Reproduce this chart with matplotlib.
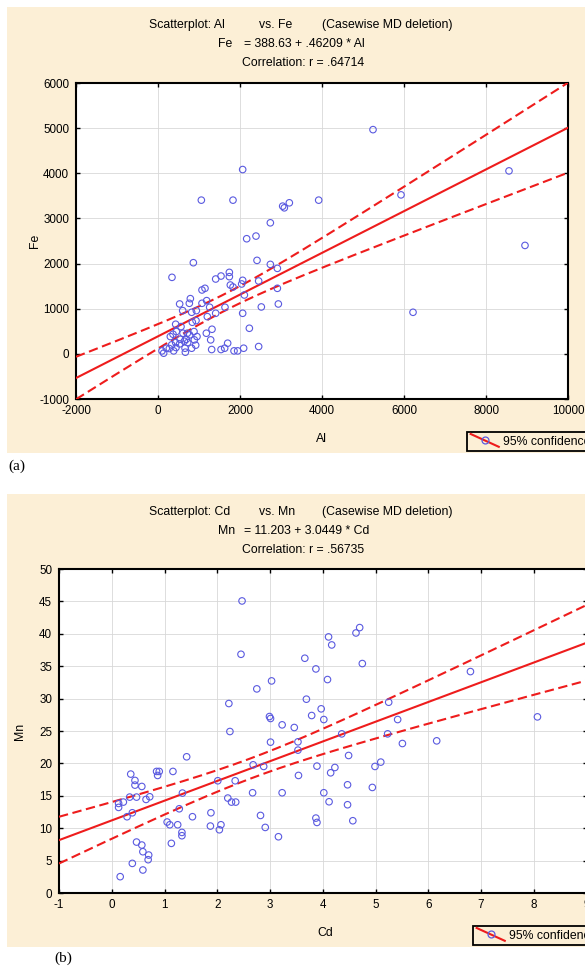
import numpy as np
import matplotlib
matplotlib.use("Agg")
import matplotlib.pyplot as plt
from matplotlib.lines import Line2D
from matplotlib.patches import Rectangle
from matplotlib.legend_handler import HandlerBase

plt.rcParams['font.family'] = ['Liberation Sans', 'DejaVu Sans']

# ---------------- data: panel (a) Al vs Fe ----------------
al = [2065, 1057, 1829, 3041, 3081, 3203, 3919, 2740, 2163, 2390,
      2415, 2740, 2911, 862, 341, 1407, 1537, 1740, 1740, 1764,
      1829, 2065, 2041, 2455, 2106, 2911, 2935, 2520, 2065, 2228,
      2455, 2089, 1943, 1854, 1699, 1626, 1537, 1309, 1285, 1317,
      1179, 1407, 1634, 1203, 1187, 1260, 1073, 1073, 1146, 789,
      764, 528, 602, 821, 935, 927, 837, 878, 951, 886,
      772, 715, 691, 724, 919, 821, 659, 667, 528, 431,
      439, 333, 301, 366, 431, 447, 537, 610, 642, 382,
      276, 203, 138, 98, 561, 5244, 5927, 6220, 8561, 8951]
fe = [4083, 3405, 3405, 3272, 3235, 3346, 3405, 2903, 2550, 2609,
      2071, 1982, 1894, 2019, 1695, 1658, 1724, 1805, 1710, 1525,
      1481, 1629, 1548, 1614, 1304, 1452, 1105, 1039, 899, 567,
      162, 125, 66, 66, 236, 125, 96, 96, 310, 545,
      457, 899, 1032, 825, 1179, 1032, 1120, 1415, 1452, 1223,
      1120, 1105, 958, 921, 958, 737, 700, 494, 383, 310,
      420, 457, 324, 251, 192, 125, 125, 37, 221, 251,
      140, 199, 383, 435, 656, 494, 324, 457, 280, 66,
      118, 125, 15, 66, 604, 4967, 3522, 921, 4053, 2402]
INTERCEPT_A, SLOPE_A = 388.63, 0.46209
xticks_a = [-2000, 0, 2000, 4000, 6000, 8000, 10000]
yticks_a = [-1000, 0, 1000, 2000, 3000, 4000, 5000, 6000]

# ---------------- data: panel (b) Cd vs Mn ----------------
cd = [2.47, 2.45, 2.75, 3.03, 2.99, 3.01, 2.22, 2.24, 3.23, 3.46,
      3.01, 3.53, 3.53, 3.54, 3.66, 3.87, 3.69, 3.79, 3.97, 4.02,
      4.11, 4.17, 4.09, 3.89, 4.15, 4.23, 4.36, 4.02, 4.12, 3.87,
      3.89, 3.16, 2.91, 2.82, 2.67, 2.68, 2.88, 3.23, 2.34, 2.20,
      2.27, 2.35, 2.01, 1.88, 1.87, 2.04, 2.07, 1.42, 1.53, 1.34,
      1.28, 1.25, 1.05, 1.10, 1.33, 1.33, 1.13, 1.16, 0.85, 0.90,
      0.87, 0.72, 0.65, 0.57, 0.47, 0.44, 0.44, 0.36, 0.34, 0.39,
      0.29, 0.22, 0.13, 0.13, 0.47, 0.57, 0.59, 0.70, 0.69, 0.59,
      0.39, 0.16, 4.63, 4.70, 4.75, 5.25, 5.42, 5.23, 5.51, 6.16,
      6.80, 8.07, 4.49, 4.99, 5.10, 4.47, 4.94, 4.47, 4.57]
mn = [45.07, 36.84, 31.50, 32.73, 27.23, 26.93, 29.24, 24.92, 25.95, 25.54,
      23.28, 23.33, 22.05, 18.14, 36.23, 34.58, 29.91, 27.39, 28.42, 26.77,
      39.52, 38.28, 32.94, 19.58, 18.55, 19.37, 24.56, 15.47, 14.08, 11.56,
      10.89, 8.68, 10.12, 11.97, 15.47, 19.78, 19.53, 15.47, 17.32, 14.65,
      14.03, 14.03, 17.32, 12.38, 10.33, 9.76, 10.53, 21.02, 11.77, 15.42,
      13.00, 10.53, 10.95, 10.53, 9.35, 8.84, 7.66, 18.76, 18.76, 18.76,
      18.14, 14.85, 14.44, 16.44, 14.80, 17.37, 16.65, 18.35, 14.80, 12.38,
      11.77, 14.03, 13.21, 13.82, 7.86, 7.40, 6.37, 5.86, 5.14, 3.55,
      4.57, 2.52, 40.13, 40.96, 35.41, 29.44, 26.77, 24.56, 23.07, 23.48,
      34.17, 27.18, 21.22, 19.53, 20.20, 16.70, 16.29, 13.62, 11.15]
INTERCEPT_B, SLOPE_B = 11.203, 3.0449
xticks_b = list(range(-1, 10))
yticks_b = list(range(0, 51, 5))

T95 = 1.987

W, H = 585, 966
BEIGE = '#fcefd6'
RED = '#ee1c1c'
BLUE = '#5a5ae0'

fig = plt.figure(figsize=(W / 100, H / 100), dpi=100, facecolor='white')


def fx(px):
    return px / W


def fy(py):
    return 1 - py / H


class DiagHandler(HandlerBase):
    def create_artists(self, legend, orig_handle, xdescent, ydescent,
                       width, height, fontsize, trans):
        x0, x1 = -xdescent, -xdescent + width
        y0, y1 = -ydescent, -ydescent + height
        ln = Line2D([x0, x1], [y1 + 0.25 * height, y0 - 0.25 * height],
                    color=RED, lw=1.5, transform=trans)
        mk = Line2D([(x0 + x1) / 2], [(y0 + y1) / 2], marker='o', ms=5,
                    mfc='none', mec=BLUE, mew=0.9, transform=trans)
        return [ln, mk]


def panel(top, bottom, left, right, x, y, b0, b1, xt, yt, xlim, ylim,
          title_parts, eq_name, eq_text, corr_text, xlabel, ylabel,
          ylabel_x, xlabel_x, beige_top, beige_bot, legend_left, legend_top,
          tag, tag_x, tag_y):
    fig.patches.append(Rectangle((fx(7), fy(beige_bot)), 1.2, (beige_bot - beige_top) / H,
                                 transform=fig.transFigure, facecolor=BEIGE,
                                 edgecolor='none', zorder=-5))
    ax = fig.add_axes([fx(left), fy(bottom), (right - left) / W, (bottom - top) / H])
    ax.set_zorder(1)
    ax.set_facecolor('white')
    x = np.asarray(x, float)
    y = np.asarray(y, float)
    n = len(x)
    resid = y - (b0 + b1 * x)
    s = np.sqrt(np.sum(resid ** 2) / (n - 2))
    xbar = x.mean()
    sxx = np.sum((x - xbar) ** 2)
    xs = np.linspace(xlim[0], xlim[1], 300)
    yh = b0 + b1 * xs
    half = T95 * s * np.sqrt(1 / n + (xs - xbar) ** 2 / sxx)
    ax.plot(xs, yh, color=RED, lw=1.5, zorder=3)
    ax.plot(xs, yh + half, color=RED, lw=1.5, ls=(0, (4.5, 2.2)), zorder=3)
    ax.plot(xs, yh - half, color=RED, lw=1.5, ls=(0, (4.5, 2.2)), zorder=3)
    ax.scatter(x, y, s=22, facecolors='none', edgecolors=BLUE, linewidths=0.8, zorder=4)
    ax.set_xlim(*xlim)
    ax.set_ylim(*ylim)
    ax.set_xticks(xt)
    ax.set_yticks(yt)
    ax.set_xticklabels([str(v) for v in xt])
    ax.set_yticklabels([str(v) for v in yt])
    ax.grid(True, color='#d8d8d8', lw=0.6)
    ax.set_axisbelow(True)
    ax.tick_params(direction='in', length=3, width=1, top=True, right=True,
                   labelsize=8.4, pad=5, colors='black')
    ax.tick_params(axis='x', pad=4)
    for sp in ax.spines.values():
        sp.set_linewidth(1.5)
        sp.set_color('black')
    # titles
    ty1, ty2, ty3 = beige_top + 18, beige_top + 37, beige_top + 56
    for px, txt in zip([149, 259, 322], title_parts):
        fig.text(fx(px), fy(ty1), txt, fontsize=8.8, ha='left', va='center')
    fig.text(fx(218), fy(ty2), eq_name, fontsize=8.8, ha='left', va='center')
    fig.text(fx(244), fy(ty2), eq_text, fontsize=8.8, ha='left', va='center')
    fig.text(fx(303), fy(ty3), corr_text, fontsize=8.8, ha='center', va='center')
    fig.text(fx(xlabel_x), fy(beige_bot - 14), xlabel, fontsize=8.8,
             ha='center', va='center')
    fig.text(fx(ylabel_x), fy((top + bottom) / 2), ylabel, fontsize=8.8,
             rotation=90, ha='center', va='center')
    proxy = Line2D([], [])
    leg = ax.legend([proxy], ['95% confidence'], handler_map={proxy: DiagHandler()},
                    loc='upper left', bbox_to_anchor=(fx(legend_left), fy(legend_top)),
                    bbox_transform=fig.transFigure, fancybox=False, framealpha=1,
                    facecolor=BEIGE, edgecolor='black', fontsize=8.8,
                    borderpad=0.3, handlelength=2.3, handletextpad=0.35,
                    borderaxespad=0)
    leg.get_frame().set_linewidth(1.3)
    fig.text(fx(tag_x), fy(tag_y), tag, fontsize=11, family='Liberation Serif',
             ha='left', va='center')
    return ax


panel(83, 399, 76, 568, al, fe, INTERCEPT_A, SLOPE_A, xticks_a, yticks_a,
      (-2000, 10000), (-1000, 6000),
      ['Scatterplot: Al', 'vs. Fe', '(Casewise MD deletion)'],
      'Fe', '= 388.63 + .46209 * Al', 'Correlation: r = .64714',
      'Al', 'Fe', 35, 321, 7, 453, 467, 432, '(a)', 8, 466)

panel(569, 893, 59, 586.5, cd, mn, INTERCEPT_B, SLOPE_B, xticks_b, yticks_b,
      (-1, 9), (0, 50),
      ['Scatterplot: Cd', 'vs. Mn', '(Casewise MD deletion)'],
      'Mn', '= 11.203 + 3.0449 * Cd', 'Correlation: r = .56735',
      'Cd', 'Mn', 20, 325, 494, 947, 473, 926, '(b)', 54, 958)

fig.savefig('out.png', dpi=100, facecolor='white')
